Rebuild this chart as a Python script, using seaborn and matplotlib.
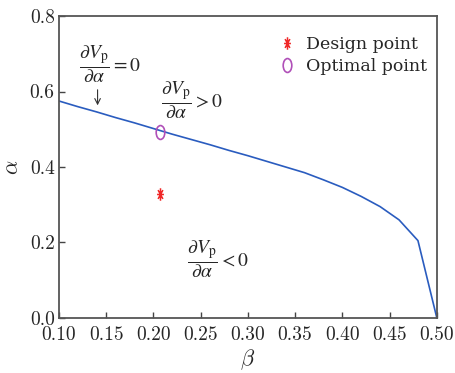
import numpy as np
import pandas as pd
import seaborn as sns
import matplotlib.pyplot as plt
from matplotlib.path import Path
from matplotlib.transforms import Affine2D

# ------------------- Data -------------------
beta = [0.10, 0.12, 0.14, 0.16, 0.18, 0.20, 0.22, 0.24, 0.26, 0.28, 0.30,
        0.32, 0.34, 0.36, 0.38, 0.40, 0.42, 0.44, 0.46, 0.48, 0.50]
alpha = [0.575, 0.560, 0.546, 0.531, 0.517, 0.502, 0.487, 0.473, 0.459, 0.444, 0.430,
         0.415, 0.400, 0.385, 0.366, 0.346, 0.322, 0.295, 0.260, 0.205, 0.0]

design_beta = [0.207]
design_alpha = [0.328]
optimal_beta = [0.207]
optimal_alpha = [0.494]

xticks = [0.10, 0.15, 0.20, 0.25, 0.30, 0.35, 0.40, 0.45, 0.50]
yticks = [0.0, 0.2, 0.4, 0.6, 0.8]

df = pd.DataFrame({'beta': beta, 'alpha': alpha})

# ------------------- Style -------------------
sns.set_style('ticks')
plt.rcParams['font.family'] = ['DejaVu Serif']
plt.rcParams['mathtext.fontset'] = 'stix'
plt.rcParams['xtick.direction'] = 'in'
plt.rcParams['ytick.direction'] = 'in'

fig = plt.figure(figsize=(4.56, 3.73), dpi=100)
ax = fig.add_axes([0.129, 0.1475, 0.829, 0.8095])

# ------------------- Plot -------------------
sns.lineplot(data=df, x='beta', y='alpha', color='#2a5cbf', linewidth=1.2, ax=ax)

# tall, narrow markers like the original
ellipse = Path.unit_circle().transformed(Affine2D().scale(0.62, 1.0))
ang = np.deg2rad([90, 135, 0, 45])
verts, codes = [], []
for a in ang:
    verts += [(-0.55 * np.cos(a), -np.sin(a)), (0.55 * np.cos(a), np.sin(a))]
    codes += [Path.MOVETO, Path.LINETO]
star = Path(verts, codes)

ax.plot(design_beta, design_alpha, linestyle='none', marker=star,
        markersize=9, markerfacecolor='none', markeredgecolor='#f02828',
        markeredgewidth=1.1, label='Design point')
ax.plot(optimal_beta, optimal_alpha, linestyle='none', marker=ellipse,
        markersize=10, markerfacecolor='none', markeredgecolor='#b050b8',
        markeredgewidth=1.2, label='Optimal point')

# annotations
ax.text(0.121, 0.673, r'$\dfrac{\partial V_\mathrm{p}}{\partial \alpha}=0$',
        fontsize=14, va='center', ha='left')
ax.annotate('', xy=(0.141, 0.556), xytext=(0.141, 0.612),
            arrowprops=dict(arrowstyle='->', color='#333333', lw=0.8))
ax.text(0.208, 0.577, r'$\dfrac{\partial V_\mathrm{p}}{\partial \alpha}>0$',
        fontsize=14, va='center', ha='left')
ax.text(0.236, 0.156, r'$\dfrac{\partial V_\mathrm{p}}{\partial \alpha}<0$',
        fontsize=14, va='center', ha='left')

ax.set_xlim(0.10, 0.50)
ax.set_ylim(0.0, 0.8)
ax.set_xticks(xticks)
ax.set_yticks(yticks)
ax.set_xticklabels([f'{v:.2f}' for v in xticks], family='cmr10', fontsize=14)
ax.set_yticklabels([f'{v:.1f}' for v in yticks], family='cmr10', fontsize=14)
ax.tick_params(length=4, width=1.0, color='#444444')
ax.tick_params(axis='x', pad=6)
ax.tick_params(axis='y', pad=3)
for s in ax.spines.values():
    s.set_color('#555555')
    s.set_linewidth(1.3)

ax.set_xlabel(r'$\beta$', fontsize=16, math_fontfamily='cm', labelpad=2)
ax.set_ylabel(r'$\alpha$', fontsize=16, math_fontfamily='cm', labelpad=5)

ax.legend(loc='upper right', bbox_to_anchor=(1.015, 0.985), frameon=False,
          fontsize=12.5, handlelength=1.0, handletextpad=0.6, labelspacing=0.3)

fig.savefig('out.png', dpi=100)
